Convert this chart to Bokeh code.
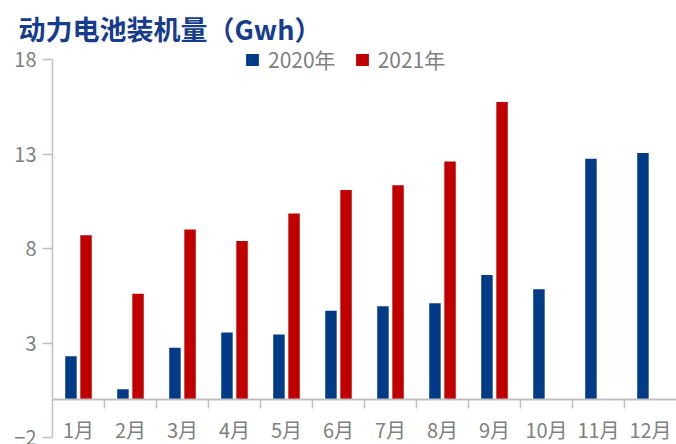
import numpy as np
from bokeh.plotting import figure
from bokeh.models import (ColumnDataSource, Range1d, LinearAxis, FixedTicker,
                          Legend, LegendItem, Label)
from bokeh.transform import dodge
from bokeh.embed import file_html
from bokeh.resources import INLINE

# Monthly installed power-battery capacity (GWh)
months = ["1月", "2月", "3月", "4月", "5月", "6月",
          "7月", "8月", "9月", "10月", "11月", "12月"]
gwh_2020 = [2.3, 0.55, 2.75, 3.55, 3.45, 4.7, 4.95, 5.1, 6.6, 5.85, 12.75, 13.05]
gwh_2021 = [8.7, 5.6, 9.0, 8.4, 9.85, 11.1, 11.35, 12.6, 15.75]
y_ticks = [-2, 3, 8, 13, 18]
y_min, y_max = -2, 18

BLUE = "#013A86"
RED = "#C00000"
GRAY_TEXT = "#808080"
GRAY_LINE = "#BFBFBF"
FONT = "Noto Sans CJK SC"

W, H = 676, 444
centers = np.arange(len(months)) + 0.5
boundaries = np.arange(1, len(months))

src_2020 = ColumnDataSource(dict(x=centers, v=gwh_2020))
src_2021 = ColumnDataSource(dict(x=centers[:len(gwh_2021)], v=gwh_2021))

# The frame covers the whole canvas; axes are pinned inside it so that the
# title, legend and labels share the same drawing area.
px_per_unit = 18.9
p = figure(width=W, height=H,
           x_range=Range1d(-1, len(months)),
           y_range=Range1d(y_min - 7 / px_per_unit, y_max + 59 / px_per_unit),
           output_backend="svg", toolbar_location=None,
           x_axis_location=None, y_axis_location=None,
           min_border_left=0, min_border_right=0,
           min_border_top=0, min_border_bottom=0)
p.outline_line_color = None
p.grid.visible = False
p.background_fill_color = "white"
p.border_fill_color = "white"

bar_w = 0.22
r20 = p.vbar(x=dodge("x", -0.145, range=p.x_range), top="v", bottom=0,
             width=bar_w, source=src_2020, fill_color=BLUE, line_color=None)
r21 = p.vbar(x=dodge("x", 0.145, range=p.x_range), top="v", bottom=0,
             width=bar_w, source=src_2021, fill_color=RED, line_color=None)

# value axis
ya = LinearAxis(
    ticker=FixedTicker(ticks=y_ticks), bounds=(y_min, y_max),
    fixed_location=0,
    axis_line_color=GRAY_LINE, axis_line_width=1.5,
    major_tick_line_color=GRAY_LINE, major_tick_line_width=1.5,
    major_tick_out=10, major_tick_in=0, minor_tick_line_color=None,
    major_label_standoff=6,
    major_label_text_font=FONT, major_label_text_font_size="20px",
    major_label_text_color=GRAY_TEXT)
p.add_layout(ya, "left")

# month labels, axis line pinned at zero
label_axis = LinearAxis(
    ticker=FixedTicker(ticks=list(centers)),
    major_label_overrides={float(c): m for c, m in zip(centers, months)},
    bounds=(0, len(months)), fixed_location=0,
    axis_line_color=GRAY_LINE, axis_line_width=2,
    major_tick_line_color=None, minor_tick_line_color=None,
    major_label_standoff=9,
    major_label_text_font=FONT, major_label_text_font_size="20px",
    major_label_text_color=GRAY_TEXT)
p.add_layout(label_axis, "below")

# separators between months
sep_axis = LinearAxis(
    ticker=FixedTicker(ticks=list(boundaries)),
    fixed_location=0,
    axis_line_color=None,
    major_tick_line_color=GRAY_LINE, major_tick_line_width=1.5,
    major_tick_out=9, major_tick_in=0,
    minor_tick_line_color=None,
    major_label_text_font_size="0px", major_label_text_color=None)
p.add_layout(sep_axis, "below")

legend = Legend(items=[LegendItem(label="2020年", renderers=[r20]),
                       LegendItem(label="2021年", renderers=[r21])],
                location=(244, 370), orientation="horizontal",
                glyph_width=16, glyph_height=15, label_standoff=8, spacing=18,
                padding=0, margin=0, border_line_color=None,
                background_fill_alpha=0,
                label_text_font=FONT, label_text_font_size="21px",
                label_text_color=GRAY_TEXT)
p.add_layout(legend)

title = Label(x=18, y=H - 28, x_units="screen", y_units="screen",
              text="动力电池装机量（Gwh）", text_baseline="middle",
              text_font=FONT, text_font_style="bold",
              text_font_size="27px", text_color="#163C8C")
p.add_layout(title)

open("out.html", "w").write(file_html(p, INLINE))
